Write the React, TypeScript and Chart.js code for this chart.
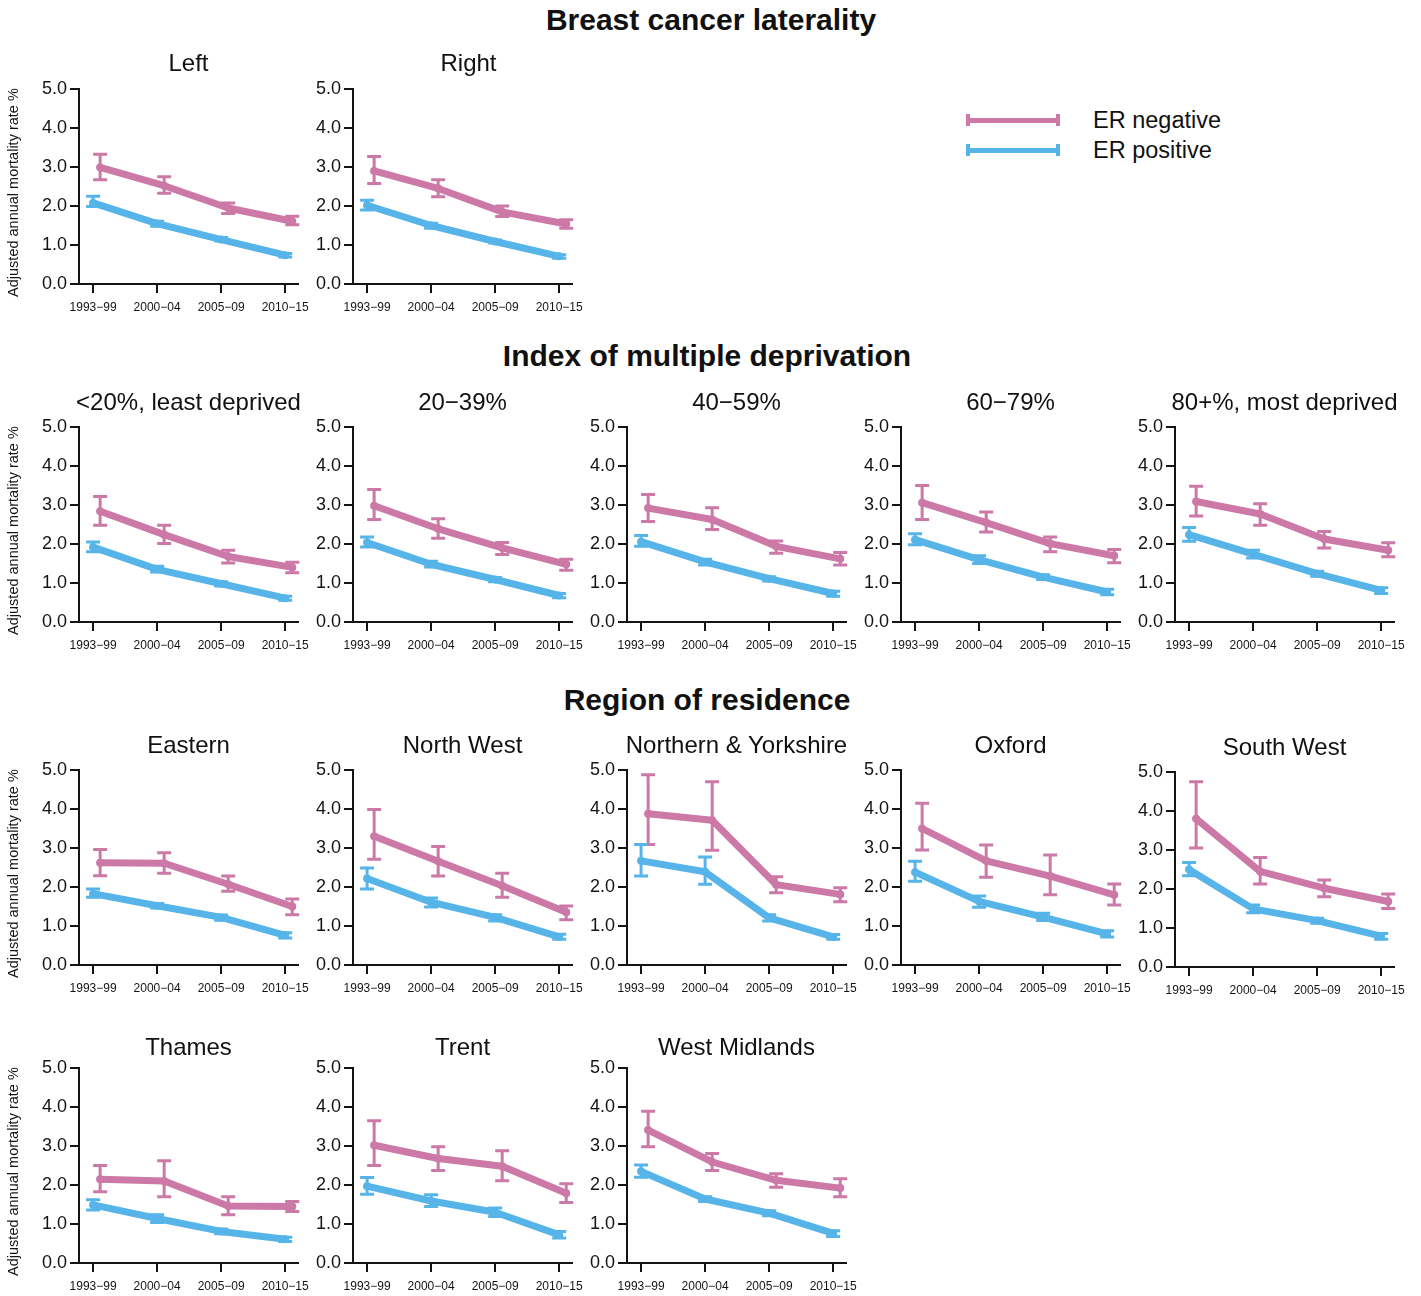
import React, { useEffect, useRef } from "react";
import { Chart, registerables } from "chart.js";

Chart.register(...registerables);

// ---------------- data ----------------
const categories = ["1993\u221299", "2000\u221204", "2005\u221209", "2010\u221215"];
const seriesNames = ["ER negative", "ER positive"];
const yAxisTitle = "Adjusted annual mortality rate %\u00a0\u00a0\u00a0";
const sectionTitles = ["Breast cancer laterality", "Index of multiple deprivation", "Region of residence"];
const panelTitles = [
  "Left", "Right",
  "<20%, least deprived", "20\u221239%", "40\u221259%", "60\u221279%", "80+%, most deprived",
  "Eastern", "North West", "Northern & Yorkshire", "Oxford", "South West",
  "Thames", "Trent", "West Midlands",
];

const erNegMean = [
  [2.99, 2.52, 1.95, 1.61],
  [2.90, 2.45, 1.85, 1.54],
  [2.84, 2.24, 1.68, 1.40],
  [2.98, 2.39, 1.90, 1.48],
  [2.92, 2.63, 1.94, 1.62],
  [3.06, 2.55, 2.01, 1.70],
  [3.09, 2.77, 2.13, 1.84],
  [2.62, 2.61, 2.07, 1.50],
  [3.30, 2.66, 2.03, 1.35],
  [3.88, 3.71, 2.06, 1.81],
  [3.50, 2.67, 2.28, 1.80],
  [3.80, 2.45, 2.02, 1.68],
  [2.15, 2.10, 1.46, 1.45],
  [3.02, 2.68, 2.48, 1.79],
  [3.41, 2.59, 2.12, 1.92],
];
const erNegLow = [
  [2.67, 2.33, 1.81, 1.52],
  [2.58, 2.24, 1.73, 1.43],
  [2.48, 2.01, 1.51, 1.26],
  [2.63, 2.15, 1.73, 1.33],
  [2.58, 2.37, 1.76, 1.46],
  [2.63, 2.31, 1.80, 1.52],
  [2.72, 2.48, 1.90, 1.67],
  [2.29, 2.35, 1.89, 1.29],
  [2.71, 2.28, 1.74, 1.16],
  [3.09, 2.94, 1.85, 1.62],
  [2.95, 2.25, 1.80, 1.54],
  [3.05, 2.13, 1.80, 1.50],
  [1.83, 1.70, 1.24, 1.32],
  [2.50, 2.37, 2.11, 1.55],
  [2.98, 2.37, 1.94, 1.70],
];
const erNegHigh = [
  [3.33, 2.75, 2.08, 1.74],
  [3.27, 2.67, 2.00, 1.65],
  [3.22, 2.48, 1.84, 1.53],
  [3.40, 2.65, 2.04, 1.61],
  [3.27, 2.93, 2.08, 1.78],
  [3.50, 2.82, 2.18, 1.86],
  [3.48, 3.03, 2.32, 2.03],
  [2.96, 2.88, 2.28, 1.69],
  [3.99, 3.04, 2.35, 1.51],
  [4.88, 4.70, 2.26, 1.98],
  [4.15, 3.08, 2.82, 2.08],
  [4.75, 2.81, 2.23, 1.87],
  [2.50, 2.62, 1.70, 1.58],
  [3.65, 2.98, 2.88, 2.03],
  [3.89, 2.81, 2.29, 2.16],
];
const erPosMean = [
  [2.08, 1.55, 1.14, 0.74],
  [2.02, 1.50, 1.09, 0.71],
  [1.92, 1.35, 0.98, 0.61],
  [2.04, 1.48, 1.09, 0.68],
  [2.06, 1.54, 1.11, 0.73],
  [2.11, 1.60, 1.15, 0.77],
  [2.24, 1.74, 1.24, 0.81],
  [1.83, 1.52, 1.22, 0.76],
  [2.22, 1.61, 1.22, 0.72],
  [2.67, 2.39, 1.21, 0.72],
  [2.38, 1.63, 1.23, 0.80],
  [2.50, 1.49, 1.19, 0.79],
  [1.49, 1.14, 0.81, 0.61],
  [1.97, 1.59, 1.30, 0.72],
  [2.35, 1.64, 1.28, 0.76],
];
const erPosLow = [
  [1.99, 1.48, 1.10, 0.69],
  [1.90, 1.43, 1.05, 0.66],
  [1.80, 1.28, 0.92, 0.56],
  [1.92, 1.41, 1.03, 0.62],
  [1.94, 1.46, 1.05, 0.66],
  [1.98, 1.50, 1.09, 0.70],
  [2.07, 1.64, 1.17, 0.73],
  [1.74, 1.46, 1.15, 0.69],
  [1.95, 1.49, 1.13, 0.66],
  [2.28, 2.07, 1.13, 0.66],
  [2.15, 1.48, 1.14, 0.72],
  [2.34, 1.39, 1.12, 0.71],
  [1.36, 1.04, 0.75, 0.55],
  [1.76, 1.45, 1.19, 0.64],
  [2.20, 1.58, 1.21, 0.68],
];
const erPosHigh = [
  [2.25, 1.61, 1.19, 0.78],
  [2.15, 1.56, 1.13, 0.75],
  [2.05, 1.43, 1.03, 0.66],
  [2.18, 1.56, 1.14, 0.73],
  [2.22, 1.61, 1.16, 0.79],
  [2.26, 1.70, 1.21, 0.84],
  [2.42, 1.84, 1.30, 0.88],
  [1.95, 1.58, 1.28, 0.83],
  [2.49, 1.72, 1.29, 0.79],
  [3.09, 2.77, 1.29, 0.78],
  [2.66, 1.77, 1.33, 0.88],
  [2.68, 1.59, 1.25, 0.86],
  [1.62, 1.24, 0.87, 0.66],
  [2.19, 1.75, 1.41, 0.81],
  [2.51, 1.70, 1.34, 0.83],
];

// ---------------- layout / style ----------------
const PINK = "#CC79A7";
const BLUE = "#56B4E9";
const AXIS = "#141414";
const FONT = "'Liberation Sans', Arial, Helvetica, sans-serif";

const COL_X = [79, 353, 627, 901, 1175];
const ROW_TOP = [89, 427, 770, 1068];
const TITLE_Y = [63, 402, 745, 1047];
const SECTION_Y = [20, 356, 700];
const SECTION_X = [711, 707, 707];
const panelRow = [0, 0, 1, 1, 1, 1, 1, 2, 2, 2, 2, 2, 3, 3, 3];
const panelCol = [0, 1, 0, 1, 2, 3, 4, 0, 1, 2, 3, 4, 0, 1, 2];
const panelDy = [0, 0, 0, 0, 0, 0, 0, 0, 0, 0, 0, 2, 0, 0, 0];
const titleDx = [0, 6, 0, 0, 0, 0, 0, 0, 0, 0, 0, 0, 0, 0, 0];

const PLOT_W = 219;
const PLOT_H = 195;
const LEFT_W = 79;
const PAD_TOP = 14;
const PAD_RIGHT = 28;
const BOTTOM_H = 36;
const NEG_DODGE = 0.11;
const POS_DODGE = 0.0;
const CAP = 7;

const errorBarPlugin = {
  id: "errorBars",
  afterDatasetsDraw(chart: any) {
    const { ctx } = chart;
    const xs = chart.scales.x;
    const ys = chart.scales.y;
    chart.data.datasets.forEach((ds: any, di: number) => {
      if (!chart.isDatasetVisible(di)) return;
      ctx.save();
      ctx.strokeStyle = ds.borderColor;
      ctx.lineWidth = 3;
      ctx.lineCap = "butt";
      ds.data.forEach((p: any, i: number) => {
        const x = xs.getPixelForValue(p.x);
        const y1 = ys.getPixelForValue(ds.errLow[i]);
        const y2 = ys.getPixelForValue(ds.errHigh[i]);
        ctx.beginPath();
        ctx.moveTo(x, y1);
        ctx.lineTo(x, y2);
        ctx.moveTo(x - CAP, y1);
        ctx.lineTo(x + CAP, y1);
        ctx.moveTo(x - CAP, y2);
        ctx.lineTo(x + CAP, y2);
        ctx.stroke();
      });
      ctx.restore();
    });
  },
};

function Panel({ p }: { p: number }) {
  const ref = useRef<HTMLCanvasElement | null>(null);
  const r = panelRow[p];
  const c = panelCol[p];
  const left = COL_X[c] - LEFT_W;
  const top = ROW_TOP[r] + panelDy[p] - PAD_TOP;
  const width = LEFT_W + PLOT_W + PAD_RIGHT;
  const height = PAD_TOP + PLOT_H + BOTTOM_H;

  useEffect(() => {
    if (!ref.current) return;
    const mk = (name: string, mean: number[], lo: number[], hi: number[], color: string, dodge: number) => ({
      label: name,
      data: categories.map((_, i) => ({ x: i + 1 + dodge, y: mean[i] })),
      errLow: lo,
      errHigh: hi,
      borderColor: color,
      backgroundColor: color,
      borderWidth: 7,
      pointRadius: 4,
      pointBorderWidth: 0,
      pointHoverRadius: 4,
      borderCapStyle: "round",
      borderJoinStyle: "round",
      tension: 0,
      clip: false,
    });
    const chart = new Chart(ref.current, {
      type: "line",
      data: {
        datasets: [
          mk(seriesNames[0], erNegMean[p], erNegLow[p], erNegHigh[p], PINK, NEG_DODGE),
          mk(seriesNames[1], erPosMean[p], erPosLow[p], erPosHigh[p], BLUE, POS_DODGE),
        ] as any,
      },
      options: {
        responsive: false,
        animation: false,
        devicePixelRatio: 1,
        layout: { padding: { left: 0, top: PAD_TOP, right: PAD_RIGHT, bottom: 0 } },
        plugins: {
          legend: { display: false },
          tooltip: { enabled: false },
          title: { display: false },
        },
        events: [],
        scales: {
          x: {
            type: "linear",
            min: 0.78,
            max: 4.2,
            afterBuildTicks: (s: any) => {
              s.ticks = categories.map((_, i) => ({ value: i + 1 }));
            },
            afterFit: (s: any) => {
              s.height = BOTTOM_H;
            },
            ticks: {
              autoSkip: false,
              maxRotation: 0,
              minRotation: 0,
              padding: 7,
              color: AXIS,
              font: { family: FONT, size: 12 },
              callback: (v: any) => categories[Math.round(Number(v)) - 1] ?? "",
            },
            grid: { drawOnChartArea: false, drawTicks: true, tickLength: 9, color: AXIS, lineWidth: 2 },
            border: { display: true, color: AXIS, width: 2 },
          },
          y: {
            type: "linear",
            min: 0,
            max: 5,
            afterFit: (s: any) => {
              s.width = LEFT_W;
            },
            ticks: {
              stepSize: 1,
              padding: 3,
              color: AXIS,
              font: { family: FONT, size: 18 },
              callback: (v: any) => Number(v).toFixed(1),
            },
            title: {
              display: c === 0,
              text: yAxisTitle,
              color: AXIS,
              font: { family: FONT, size: 14.5 },
              padding: { top: 5, bottom: 0 },
            },
            grid: { drawOnChartArea: false, drawTicks: true, tickLength: 9, color: AXIS, lineWidth: 2 },
            border: { display: true, color: AXIS, width: 2 },
          },
        },
      } as any,
      plugins: [errorBarPlugin],
    });
    return () => chart.destroy();
  }, [p]);

  return (
    <>
      <canvas
        ref={ref}
        width={width}
        height={height}
        style={{ position: "absolute", left, top, width, height }}
      />
      <div
        style={{
          position: "absolute",
          left: COL_X[c] - 40 + titleDx[p],
          width: PLOT_W + 80,
          top: TITLE_Y[r] + panelDy[p] - 12,
          height: 24,
          lineHeight: "24px",
          fontSize: 24,
          fontFamily: FONT,
          color: "#111",
          textAlign: "center",
          whiteSpace: "nowrap",
        }}
      >
        {panelTitles[p]}
      </div>
    </>
  );
}

function Legend() {
  const colors = [PINK, BLUE];
  const ys = [120, 150];
  return (
    <>
      {seriesNames.map((name, i) => (
        <React.Fragment key={name}>
          <div style={{ position: "absolute", left: 968, top: ys[i] - 2.5, width: 90, height: 5, background: colors[i] }} />
          <div style={{ position: "absolute", left: 966, top: ys[i] - 6, width: 4, height: 12, background: colors[i] }} />
          <div style={{ position: "absolute", left: 1056, top: ys[i] - 6, width: 4, height: 12, background: colors[i] }} />
          <div
            style={{
              position: "absolute",
              left: 1093,
              top: ys[i] - 12,
              height: 24,
              lineHeight: "24px",
              fontSize: 23.5,
              fontFamily: FONT,
              color: "#111",
              whiteSpace: "nowrap",
            }}
          >
            {name}
          </div>
        </React.Fragment>
      ))}
    </>
  );
}

export default function App() {
  return (
    <div style={{ position: "absolute", left: 0, top: 0, width: 1421, height: 1296, background: "#fff", overflow: "hidden" }}>
      {sectionTitles.map((t, i) => (
        <div
          key={t}
          style={{
            position: "absolute",
            left: SECTION_X[i] - 300,
            width: 600,
            top: SECTION_Y[i] - 15,
            height: 30,
            lineHeight: "30px",
            fontSize: 30,
            fontWeight: "bold",
            fontFamily: FONT,
            color: "#111",
            textAlign: "center",
          }}
        >
          {t}
        </div>
      ))}
      {panelTitles.map((_, p) => (
        <Panel key={p} p={p} />
      ))}
      <Legend />
    </div>
  );
}
